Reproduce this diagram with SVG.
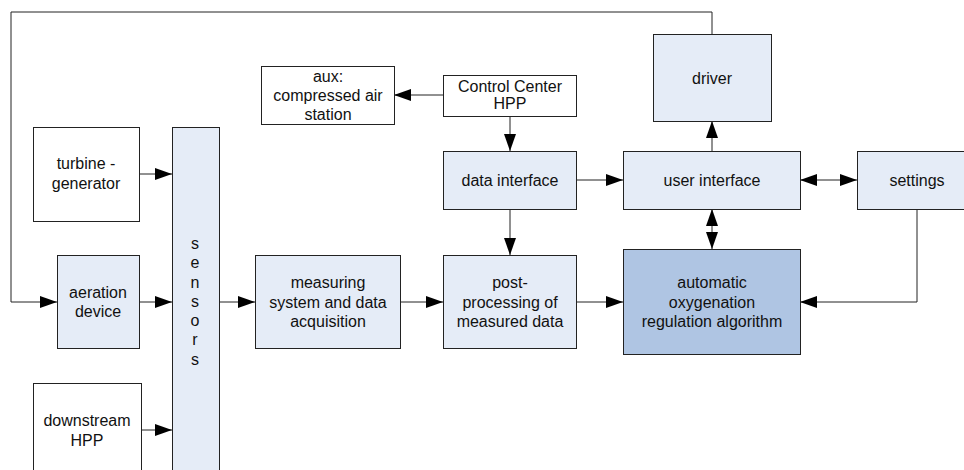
<svg xmlns="http://www.w3.org/2000/svg" width="964" height="470" viewBox="0 0 964 470">
<defs>
<style>
.box{stroke:#222;stroke-width:1}
.w{fill:#fff}
.l{fill:#E5ECF7}
.d{fill:#AFC5E3}
text{font-family:"Liberation Sans",Arial,sans-serif;font-size:16px;fill:#111;text-anchor:middle}
.c{fill:none;stroke:#222;stroke-width:1}
</style>
<marker id="ah" markerUnits="userSpaceOnUse" markerWidth="17" markerHeight="12" refX="17" refY="6" orient="auto">
<path d="M0,0 L17,6 L0,12 Z" fill="#000"/>
</marker>
<marker id="as" markerUnits="userSpaceOnUse" markerWidth="17" markerHeight="12" refX="0" refY="6" orient="auto">
<path d="M17,0 L0,6 L17,12 Z" fill="#000"/>
</marker>
</defs>
<rect width="964" height="470" fill="#fff"/>
<g id="connectors">
<path class="c" d="M712,34 V12 H11 V302 H57" marker-end="url(#ah)"/>
<path class="c" d="M443,95 H394" marker-end="url(#ah)"/>
<path class="c" d="M510,116 V151" marker-end="url(#ah)"/>
<path class="c" d="M139,174 H172" marker-end="url(#ah)"/>
<path class="c" d="M139,302 H172" marker-end="url(#ah)"/>
<path class="c" d="M141,430 H172" marker-end="url(#ah)"/>
<path class="c" d="M219,302 H255" marker-end="url(#ah)"/>
<path class="c" d="M400,302 H443" marker-end="url(#ah)"/>
<path class="c" d="M577,302 H623" marker-end="url(#ah)"/>
<path class="c" d="M510,209 V255" marker-end="url(#ah)"/>
<path class="c" d="M577,180 H623" marker-end="url(#ah)"/>
<path class="c" d="M712,151 V121" marker-end="url(#ah)"/>
<path class="c" d="M800,180 H857" marker-start="url(#as)" marker-end="url(#ah)"/>
<path class="c" d="M712,209 V249" marker-start="url(#as)" marker-end="url(#ah)"/>
<path class="c" d="M917,209 V302 H800" marker-end="url(#ah)"/>
</g>
<g id="aux"><rect class="box w" x="261.5" y="66.5" width="133" height="58"/><text x="328" y="82">aux:</text><text x="328" y="101">compressed air</text><text x="328" y="120">station</text></g>
<g id="control-center"><rect class="box w" x="443.5" y="75.5" width="133" height="41"/><text x="510" y="92">Control Center</text><text x="510" y="109">HPP</text></g>
<g id="driver"><rect class="box l" x="653.5" y="34.5" width="118" height="87"/><text x="712" y="84">driver</text></g>
<g id="turbine"><rect class="box w" x="33.5" y="127.5" width="106" height="94"/><text x="86" y="169">turbine -</text><text x="86" y="189">generator</text></g>
<g id="sensors"><rect class="box l" x="172.5" y="127.5" width="47" height="350"/>
<text x="195" y="249">s</text><text x="195" y="268">e</text><text x="195" y="288">n</text><text x="195" y="307">s</text><text x="195" y="326">o</text><text x="195" y="345">r</text><text x="195" y="365">s</text></g>
<g id="data-interface"><rect class="box l" x="443.5" y="151.5" width="133" height="58"/><text x="510" y="186">data interface</text></g>
<g id="user-interface"><rect class="box l" x="623.5" y="151.5" width="177" height="58"/><text x="712" y="186">user interface</text></g>
<g id="settings"><rect class="box l" x="857.5" y="151.5" width="120" height="58"/><text x="917" y="186">settings</text></g>
<g id="aeration"><rect class="box l" x="57.5" y="255.5" width="82" height="93"/><text x="98" y="298">aeration</text><text x="98" y="317">device</text></g>
<g id="measuring"><rect class="box l" x="255.5" y="255.5" width="145" height="93"/><text x="328" y="288">measuring</text><text x="328" y="308">system and data</text><text x="328" y="327">acquisition</text></g>
<g id="post-processing"><rect class="box l" x="443.5" y="255.5" width="133" height="93"/><text x="510" y="288">post-</text><text x="510" y="308">processing of</text><text x="510" y="327">measured data</text></g>
<g id="algorithm"><rect class="box d" x="623.5" y="249.5" width="177" height="105"/><text x="712" y="288">automatic</text><text x="712" y="308">oxygenation</text><text x="712" y="327">regulation algorithm</text></g>
<g id="downstream"><rect class="box w" x="33.5" y="383.5" width="108" height="100"/><text x="87" y="426">downstream</text><text x="87" y="446">HPP</text></g>
</svg>
